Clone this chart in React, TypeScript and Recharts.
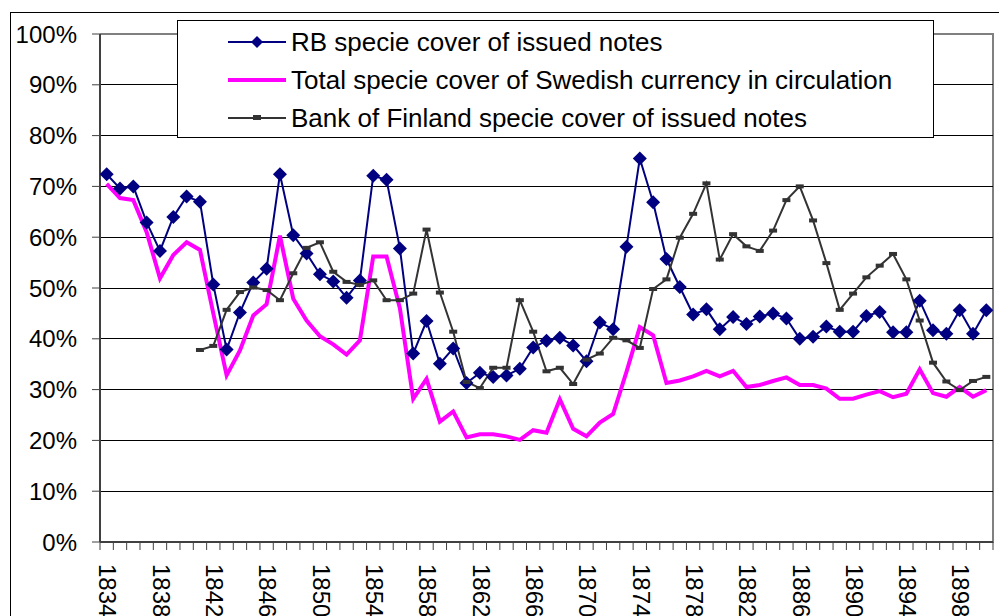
// Specie cover of notes: Riksbank, total Swedish currency, Bank of Finland (1834-1900)
import { CartesianGrid, Legend, Line, LineChart, XAxis, YAxis } from "recharts";

const YEARS = [
  1834, 1835, 1836, 1837, 1838, 1839, 1840, 1841, 1842, 1843, 1844, 1845, 1846, 1847,
  1848, 1849, 1850, 1851, 1852, 1853, 1854, 1855, 1856, 1857, 1858, 1859, 1860, 1861,
  1862, 1863, 1864, 1865, 1866, 1867, 1868, 1869, 1870, 1871, 1872, 1873, 1874, 1875,
  1876, 1877, 1878, 1879, 1880, 1881, 1882, 1883, 1884, 1885, 1886, 1887, 1888, 1889,
  1890, 1891, 1892, 1893, 1894, 1895, 1896, 1897, 1898, 1899, 1900,
];

// percent values
const RB_COVER = [
  72.4, 69.6, 70.0, 62.9, 57.3, 64.0, 68.0, 67.0, 50.7, 37.9, 45.2, 51.1, 53.8, 72.4,
  60.4, 56.8, 52.7, 51.3, 48.1, 51.5, 72.1, 71.3, 57.8, 37.1, 43.5, 35.1, 38.1, 31.3,
  33.3, 32.5, 32.8, 34.1, 38.3, 39.6, 40.2, 38.7, 35.6, 43.2, 41.9, 58.1, 75.5, 66.9,
  55.7, 50.2, 44.8, 45.8, 41.9, 44.3, 42.9, 44.4, 45.0, 44.0, 40.0, 40.4, 42.4, 41.4,
  41.4, 44.5, 45.3, 41.3, 41.3, 47.5, 41.7, 41.0, 45.6, 41.0, 45.6,
];

const TOTAL_COVER = [
  70.5, 67.7, 67.3, 61.0, 51.9, 56.5, 59.0, 57.5, 45.0, 32.8, 37.7, 44.6, 46.8, 60.3,
  47.9, 43.6, 40.5, 38.9, 36.9, 39.7, 56.2, 56.2, 46.0, 28.2, 32.1, 23.7, 25.7, 20.6,
  21.2, 21.2, 20.8, 20.1, 22.0, 21.5, 28.1, 22.3, 20.8, 23.5, 25.2, 33.5, 42.3, 40.7,
  31.3, 31.8, 32.6, 33.7, 32.6, 33.7, 30.5, 30.9, 31.7, 32.4, 30.9, 30.9, 30.2, 28.2,
  28.2, 29.0, 29.7, 28.5, 29.2, 34.0, 29.3, 28.6, 30.5, 28.6, 29.9,
];

const BOF_COVER = [
  null, null, null, null, null, null, null, 37.8, 38.6, 45.7, 49.2, 50.1, 49.6, 47.6,
  52.9, 57.9, 59.0, 53.2, 51.2, 50.6, 51.5, 47.6, 47.6, 48.9, 61.5, 49.1, 41.4, 31.5,
  30.3, 34.3, 34.3, 47.6, 41.4, 33.6, 34.3, 31.1, 35.9, 37.1, 40.2, 39.7, 38.2, 49.8,
  51.7, 59.9, 64.6, 70.6, 55.6, 60.6, 58.2, 57.3, 61.3, 67.3, 70.0, 63.3, 54.9, 45.7,
  48.9, 52.1, 54.4, 56.7, 51.7, 43.6, 35.3, 31.6, 29.9, 31.7, 32.5,
];

const Y_TICKS = [0, 10, 20, 30, 40, 50, 60, 70, 80, 90, 100];
const LEGEND_ORDER = ["rb", "total", "bof"];
const LABEL_EVERY = 4;

const W = 999;
const H = 616;
const PLOT_LEFT = 100;
const PLOT_RIGHT = 993;
const PLOT_TOP = 34;
const X_AXIS_H = 74;
const AXIS_Y = H - X_AXIS_H;
const BAND = (PLOT_RIGHT - PLOT_LEFT) / YEARS.length;
const FONT = '"Liberation Sans", Arial, sans-serif';
const AXIS_COLOR = "#404040";

const COLORS = {
  rb: "#000080",
  total: "#FF00FF",
  bof: "#333333",
};

const data = YEARS.map((year, i) => ({
  year,
  rb: RB_COVER[i],
  total: TOTAL_COVER[i],
  bof: BOF_COVER[i],
}));

function Diamond(props: any) {
  const { cx, cy, index } = props;
  if (cx == null || cy == null) return <g key={`d${index}`} />;
  const r = 7;
  return (
    <path
      key={`d${index}`}
      d={`M${cx},${cy - r}L${cx + r},${cy}L${cx},${cy + r}L${cx - r},${cy}Z`}
      fill={COLORS.rb}
    />
  );
}

function Dash(props: any) {
  const { cx, cy, index } = props;
  if (cx == null || cy == null) return <g key={`b${index}`} />;
  return <rect key={`b${index}`} x={cx - 4} y={cy - 2} width={8} height={4} fill={COLORS.bof} />;
}

// Excel-style ticks between categories, label every 4th year rotated
function YearTick(props: any) {
  const { x, payload, index } = props;
  const left = x - BAND / 2;
  const ty = AXIS_Y + 22;
  return (
    <g>
      <line x1={left} x2={left} y1={AXIS_Y} y2={AXIS_Y + 8} stroke={AXIS_COLOR} />
      {index === YEARS.length - 1 && (
        <line x1={x + BAND / 2} x2={x + BAND / 2} y1={AXIS_Y} y2={AXIS_Y + 8} stroke={AXIS_COLOR} />
      )}
      {index % LABEL_EVERY === 0 && (
        <text
          x={x}
          y={ty}
          dy="0.3em"
          transform={`rotate(90 ${x} ${ty})`}
          fontSize={24}
          fontFamily={FONT}
          fill="#000"
          textAnchor="start"
        >
          {payload.value}
        </text>
      )}
    </g>
  );
}

function LegendBox(props: any) {
  const { payload = [] } = props;
  const items = [...payload].sort(
    (a: any, b: any) => LEGEND_ORDER.indexOf(a.dataKey) - LEGEND_ORDER.indexOf(b.dataKey)
  );
  return (
    <div
      style={{
        position: "relative",
        width: 757,
        height: 118,
        boxSizing: "border-box",
        border: "1px solid #000",
        background: "#fff",
        fontFamily: FONT,
        fontSize: 26,
      }}
    >
      {items.map((entry: any, i: number) => (
        <div
          key={entry.value}
          style={{ position: "absolute", left: 0, top: 2 + i * 38, height: 38, width: "100%" }}
        >
          <svg width={60} height={38} style={{ position: "absolute", left: 49, top: 0 }}>
            <line
              x1={1}
              x2={59}
              y1={19}
              y2={19}
              stroke={entry.color}
              strokeWidth={entry.dataKey === "total" ? 4 : 2}
            />
            {entry.dataKey === "rb" && <path d="M30,13L36,19L30,25L24,19Z" fill={COLORS.rb} />}
            {entry.dataKey === "bof" && <rect x={26} y={16} width={8} height={5} fill={COLORS.bof} />}
          </svg>
          <span style={{ position: "absolute", left: 113, top: 0, lineHeight: "38px", whiteSpace: "nowrap" }}>
            {entry.value}
          </span>
        </div>
      ))}
    </div>
  );
}

export default function App() {
  return (
    <div style={{ position: "relative", width: W, height: H, overflow: "hidden", background: "#fff" }}>
      <style>{`body{margin:0}`}</style>
      <div
        style={{
          position: "absolute",
          left: 10,
          top: 12,
          width: 1100,
          height: 700,
          border: "1.5px solid #000",
        }}
      />
      {/* plot area border (top and right, grey) */}
      <div
        style={{
          position: "absolute",
          left: PLOT_LEFT,
          top: PLOT_TOP - 1,
          width: PLOT_RIGHT - PLOT_LEFT - 1,
          height: AXIS_Y - PLOT_TOP,
          borderTop: "2px solid #808080",
          borderRight: "2px solid #808080",
        }}
      />
      <div style={{ position: "absolute", left: 0, top: 0 }}>
        <LineChart
          width={W}
          height={H}
          data={data}
          margin={{ top: PLOT_TOP, right: W - PLOT_RIGHT, bottom: 0, left: 10 }}
        >
          <CartesianGrid
            vertical={false}
            stroke="#000"
            strokeWidth={1}
            shapeRendering="crispEdges"
            horizontalValues={Y_TICKS.slice(0, -1)}
          />
          <XAxis
            dataKey="year"
            height={X_AXIS_H}
            interval={0}
            padding={{ left: BAND / 2, right: BAND / 2 }}
            tickLine={false}
            axisLine={{ stroke: AXIS_COLOR, strokeWidth: 2 }}
            tick={YearTick}
          />
          <YAxis
            width={PLOT_LEFT - 10}
            domain={[0, 100]}
            ticks={Y_TICKS}
            tickFormatter={(v: number) => `${v}%`}
            tickSize={8}
            tickMargin={15}
            tickLine={{ stroke: AXIS_COLOR }}
            axisLine={{ stroke: AXIS_COLOR, strokeWidth: 2 }}
            tick={{ fontSize: 24, fill: "#000", fontFamily: FONT }}
          />
          <Legend
            layout="vertical"
            align="center"
            verticalAlign="middle"
            wrapperStyle={{ top: 20, left: 177, width: 757, height: 118 }}
            content={LegendBox}
          />
          <Line
            dataKey="rb"
            name="RB specie cover of issued notes"
            stroke={COLORS.rb}
            strokeWidth={2}
            dot={Diamond}
            activeDot={false}
            isAnimationActive={false}
          />
          <Line
            dataKey="total"
            name="Total specie cover of Swedish currency in circulation"
            stroke={COLORS.total}
            strokeWidth={4}
            dot={false}
            activeDot={false}
            isAnimationActive={false}
          />
          <Line
            dataKey="bof"
            name="Bank of Finland specie cover of issued notes"
            stroke={COLORS.bof}
            strokeWidth={2}
            dot={Dash}
            activeDot={false}
            isAnimationActive={false}
          />
        </LineChart>
      </div>
    </div>
  );
}
